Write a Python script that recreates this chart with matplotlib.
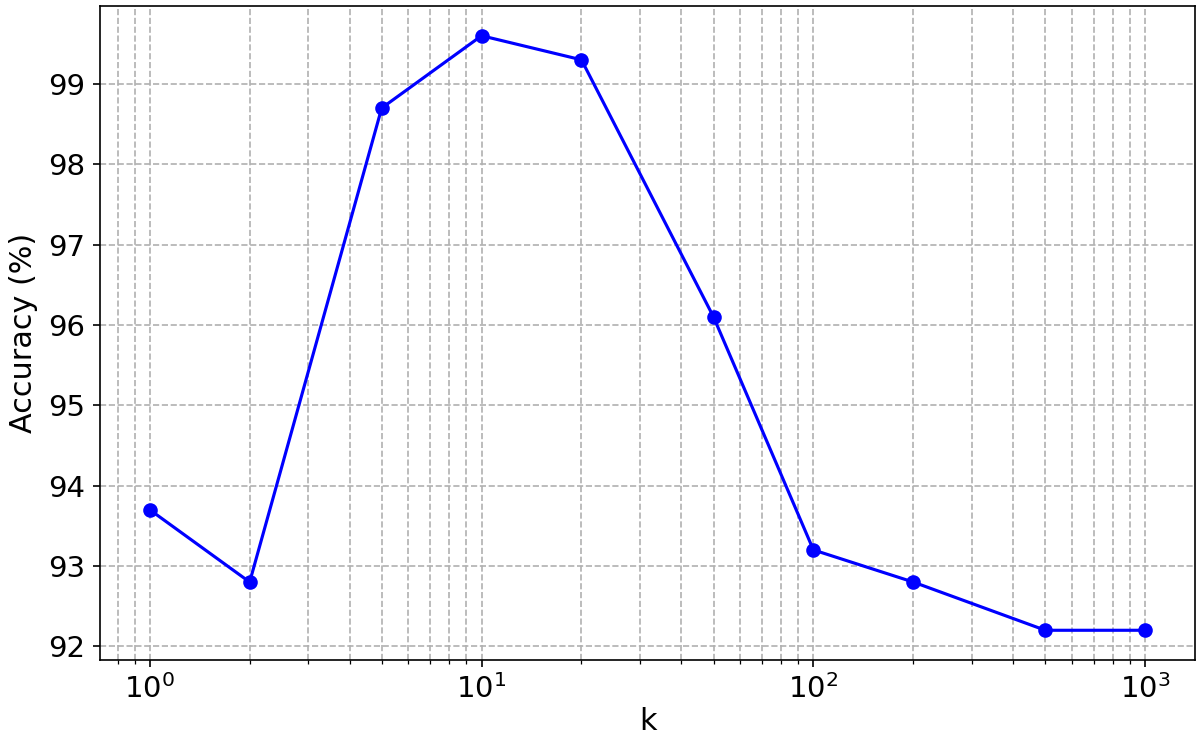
import matplotlib
matplotlib.use("Agg")
import matplotlib.pyplot as plt

k_values = [1, 2, 5, 10, 20, 50, 100, 200, 500, 1000]
accuracy = [93.7, 92.8, 98.7, 99.6, 99.3, 96.1, 93.2, 92.8, 92.2, 92.2]

fig, ax = plt.subplots(figsize=(8, 4.94), dpi=150)
ax.plot(k_values, accuracy, marker='o', color='blue', linewidth=1.5, markersize=6)
ax.set_xscale('log')
ax.set_xlabel('k', fontsize=14.5, labelpad=1)
ax.set_ylabel('Accuracy (%)', fontsize=14.5, labelpad=5)
ax.tick_params(axis='both', which='major', labelsize=14)
ax.grid(True, which='both', linestyle='--', color='#b0b0b0', linewidth=0.8)
fig.subplots_adjust(left=100/1200, right=1195/1200, top=1-6/741, bottom=1-660/741)
fig.savefig('out.png', dpi=150)
